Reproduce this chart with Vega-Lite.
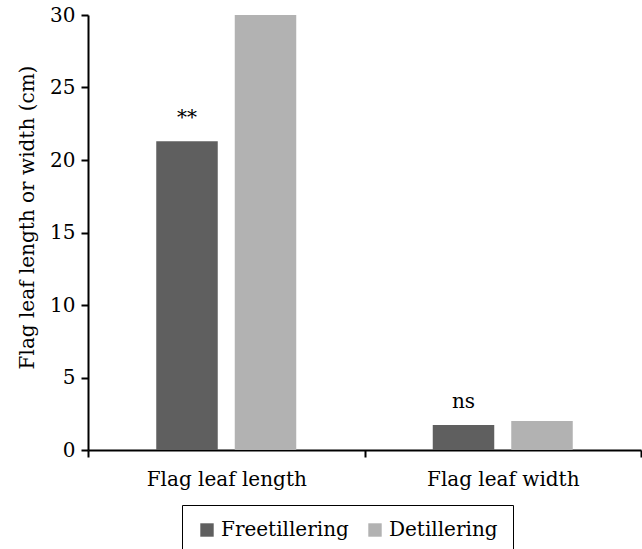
{
  "$schema": "https://vega.github.io/schema/vega-lite/v6.json",
  "width": 553,
  "height": 435,
  "autosize": {"type": "none"},
  "padding": {"left": 88, "top": 15, "right": 1, "bottom": 99},
  "config": {
    "view": {"stroke": null},
    "font": "DejaVu Serif",
    "axis": {"labelFont": "DejaVu Serif", "titleFont": "DejaVu Serif"},
    "legend": {"labelFont": "DejaVu Serif"},
    "text": {"font": "DejaVu Serif"}
  },
  "data": {"values": [
    {"trait": "Flag leaf length", "treatment": "Freetillering", "value": 21.3, "sig": "**"},
    {"trait": "Flag leaf length", "treatment": "Detillering", "value": 30.0, "sig": ""},
    {"trait": "Flag leaf width", "treatment": "Freetillering", "value": 1.72, "sig": "ns"},
    {"trait": "Flag leaf width", "treatment": "Detillering", "value": 2.0, "sig": ""}
  ]},
  "encoding": {
    "x": {
      "field": "trait", "type": "nominal", "sort": ["Flag leaf length", "Flag leaf width"],
      "scale": {"paddingInner": 0, "paddingOuter": 0},
      "axis": {
        "title": null, "labelAngle": 0, "tickBand": "extent", "labelLimit": 0,
        "domainColor": "black", "domainWidth": 2, "tickColor": "black", "tickWidth": 2,
        "tickSize": 7, "labelPadding": 12, "labelFontSize": 20, "labelColor": "black"
      }
    },
    "xOffset": {
      "field": "treatment", "type": "nominal", "sort": ["Freetillering", "Detillering"],
      "scale": {"paddingInner": 0.2166, "paddingOuter": 0.8695}
    },
    "y": {
      "field": "value", "type": "quantitative",
      "scale": {"domain": [0, 30], "nice": false},
      "axis": {
        "values": [0, 5, 10, 15, 20, 25, 30], "grid": false,
        "title": "Flag leaf length or width (cm)", "titleFontSize": 20, "titleFontWeight": "normal",
        "titleColor": "black", "titlePadding": 12, "titleY": 202,
        "domainColor": "black", "domainWidth": 2, "tickColor": "black", "tickWidth": 2,
        "tickSize": 7, "labelPadding": 6, "labelFontSize": 20, "labelColor": "black"
      }
    }
  },
  "layer": [
    {
      "mark": {"type": "bar"},
      "encoding": {
        "color": {
          "field": "treatment", "type": "nominal",
          "scale": {"domain": ["Freetillering", "Detillering"], "range": ["#5f5f5f", "#b2b2b2"]},
          "legend": {
            "orient": "none", "legendX": 94, "legendY": 490, "direction": "horizontal",
            "title": null, "symbolType": "square", "symbolSize": 180, "symbolStrokeWidth": 0,
            "symbolOpacity": 1, "labelFontSize": 20, "labelColor": "black",
            "labelOffset": 4, "columnPadding": 16, "padding": 15,
            "strokeColor": "black"
          }
        }
      }
    },
    {
      "mark": {"type": "text", "dy": -17, "baseline": "alphabetic", "fontSize": 20, "color": "black"},
      "encoding": {"text": {"field": "sig", "type": "nominal"}}
    }
  ]
}
